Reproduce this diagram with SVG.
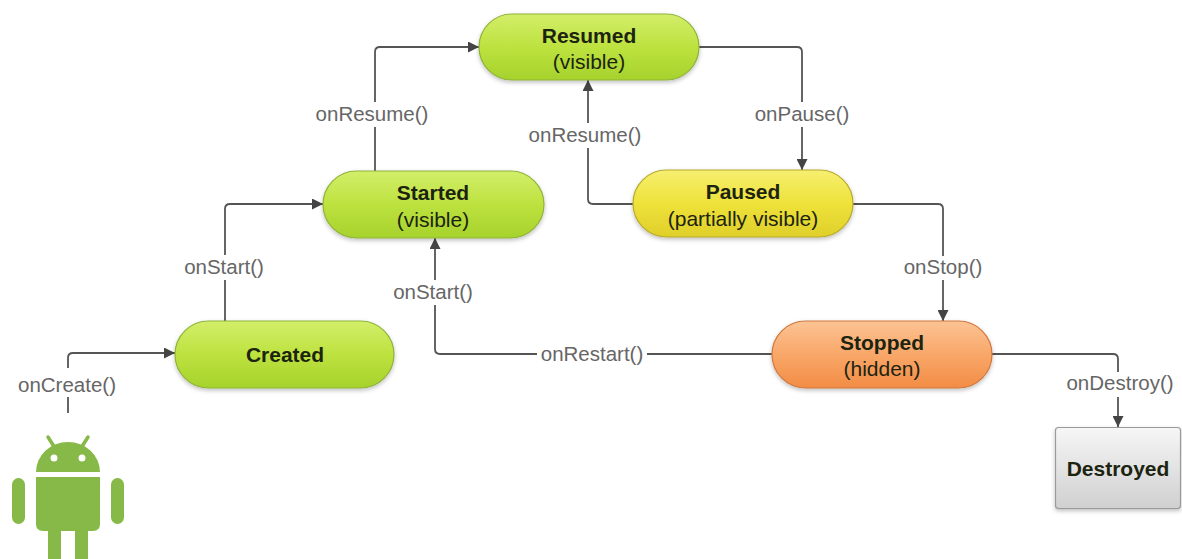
<svg xmlns="http://www.w3.org/2000/svg" width="1182" height="559" viewBox="0 0 1182 559">
<defs>
<style>
.lbl{font-family:"Liberation Sans",Arial,sans-serif;font-size:20.5px;fill:#666;text-anchor:middle}
.t{font-family:"Liberation Sans",Arial,sans-serif;font-size:21px;fill:#1c2410;text-anchor:middle}
.b{font-weight:bold}
.ln{fill:none;stroke:#555;stroke-width:1.8}
.g{fill:url(#gG);stroke:#8fb33a;stroke-width:1.2}
.y{fill:url(#gY);stroke:#b7aa2c;stroke-width:1.2}
.o{fill:url(#gO);stroke:#d0783e;stroke-width:1.2}
.d{fill:url(#gD);stroke:#9a9a9a;stroke-width:1.2}
.and{fill:#86b947}
</style>
<linearGradient id="gG" x1="0" y1="0" x2="0" y2="1"><stop offset="0" stop-color="#d3ee6a"/><stop offset="0.5" stop-color="#bde23f"/><stop offset="1" stop-color="#a6d22c"/></linearGradient>
<linearGradient id="gY" x1="0" y1="0" x2="0" y2="1"><stop offset="0" stop-color="#f6ef70"/><stop offset="0.5" stop-color="#eee23a"/><stop offset="1" stop-color="#e0cf2a"/></linearGradient>
<linearGradient id="gO" x1="0" y1="0" x2="0" y2="1"><stop offset="0" stop-color="#fcc394"/><stop offset="0.5" stop-color="#f9a769"/><stop offset="1" stop-color="#f28c45"/></linearGradient>
<linearGradient id="gD" x1="0" y1="0" x2="0" y2="1"><stop offset="0" stop-color="#f6f6f6"/><stop offset="1" stop-color="#d0d0d0"/></linearGradient>
<filter id="sh" x="-10%" y="-20%" width="120%" height="150%"><feDropShadow dx="0" dy="2" stdDeviation="2" flood-color="#000" flood-opacity="0.25"/></filter>
<marker id="arr" viewBox="0 0 10 10" refX="10" refY="5" markerWidth="13" markerHeight="11" markerUnits="userSpaceOnUse" orient="auto"><path d="M0,0 L10,5 L0,10 z" fill="#444"/></marker>
</defs>
<rect width="1182" height="559" fill="#fff"/>

<g id="connectors">
<path class="ln" d="M68 413 V397"/>
<path class="ln" d="M68 368 V358 Q68 353 73 353 H175" marker-end="url(#arr)"/>
<path class="ln" d="M225 321 V280"/>
<path class="ln" d="M225 255 V209 Q225 204 230 204 H323" marker-end="url(#arr)"/>
<path class="ln" d="M375 171 V127"/>
<path class="ln" d="M375 102 V52 Q375 47 380 47 H479" marker-end="url(#arr)"/>
<path class="ln" d="M699 47 H797 Q802 47 802 52 V102"/>
<path class="ln" d="M802 127 V170" marker-end="url(#arr)"/>
<path class="ln" d="M633 204 H593 Q588 204 588 199 V148"/>
<path class="ln" d="M588 123 V80" marker-end="url(#arr)"/>
<path class="ln" d="M853 204 H938 Q943 204 943 209 V256"/>
<path class="ln" d="M943 280 V321" marker-end="url(#arr)"/>
<path class="ln" d="M772 354 H647"/>
<path class="ln" d="M537 354 H440 Q435 354 435 349 V305"/>
<path class="ln" d="M435 280 V238" marker-end="url(#arr)"/>
<path class="ln" d="M992 354 H1113 Q1118 354 1118 359 V372"/>
<path class="ln" d="M1118 397 V427" marker-end="url(#arr)"/>
<text class="lbl" x="67" y="392">onCreate()</text>
<text class="lbl" x="224" y="274">onStart()</text>
<text class="lbl" x="372" y="121">onResume()</text>
<text class="lbl" x="802" y="121">onPause()</text>
<text class="lbl" x="585" y="142">onResume()</text>
<text class="lbl" x="943" y="274">onStop()</text>
<text class="lbl" x="433" y="299">onStart()</text>
<text class="lbl" x="592" y="361">onRestart()</text>
<text class="lbl" x="1120" y="390">onDestroy()</text>
</g>

<g id="android">
<path class="and" d="M36 472 A32 30 0 0 1 100 472 Z"/>
<line x1="48" y1="437" x2="55" y2="448" stroke="#86b947" stroke-width="3.5" stroke-linecap="round"/>
<line x1="88" y1="437" x2="81" y2="448" stroke="#86b947" stroke-width="3.5" stroke-linecap="round"/>
<circle cx="54" cy="458" r="3.5" fill="#fff"/>
<circle cx="82" cy="458" r="3.5" fill="#fff"/>
<path class="and" d="M36 477 H100 V524 Q100 531 93 531 H43 Q36 531 36 524 Z"/>
<rect class="and" x="12" y="478" width="13" height="46" rx="6.5"/>
<rect class="and" x="111" y="478" width="13" height="46" rx="6.5"/>
<rect class="and" x="48" y="522" width="13" height="46" rx="6.5"/>
<rect class="and" x="75" y="522" width="13" height="46" rx="6.5"/>
</g>

<g id="resumed">
<rect class="g" x="479" y="14" width="220" height="66" rx="33" filter="url(#sh)"/>
<text class="t b" x="589" y="43">Resumed</text>
<text class="t" x="589" y="69">(visible)</text>
</g>
<g id="started">
<rect class="g" x="323" y="171" width="221" height="67" rx="33.5" filter="url(#sh)"/>
<text class="t b" x="433" y="200">Started</text>
<text class="t" x="433" y="227">(visible)</text>
</g>
<g id="paused">
<rect class="y" x="633" y="170" width="220" height="67" rx="33.5" filter="url(#sh)"/>
<text class="t b" x="743" y="199">Paused</text>
<text class="t" x="743" y="226">(partially visible)</text>
</g>
<g id="created">
<rect class="g" x="175" y="321" width="219" height="67" rx="33.5" filter="url(#sh)"/>
<text class="t b" x="285" y="362">Created</text>
</g>
<g id="stopped">
<rect class="o" x="772" y="321" width="220" height="67" rx="33.5" filter="url(#sh)"/>
<text class="t b" x="882" y="350">Stopped</text>
<text class="t" x="882" y="376">(hidden)</text>
</g>
<g id="destroyed">
<rect class="d" x="1055.5" y="427.5" width="125" height="81" rx="3" filter="url(#sh)"/>
<text class="t b" x="1118" y="476">Destroyed</text>
</g>
</svg>
